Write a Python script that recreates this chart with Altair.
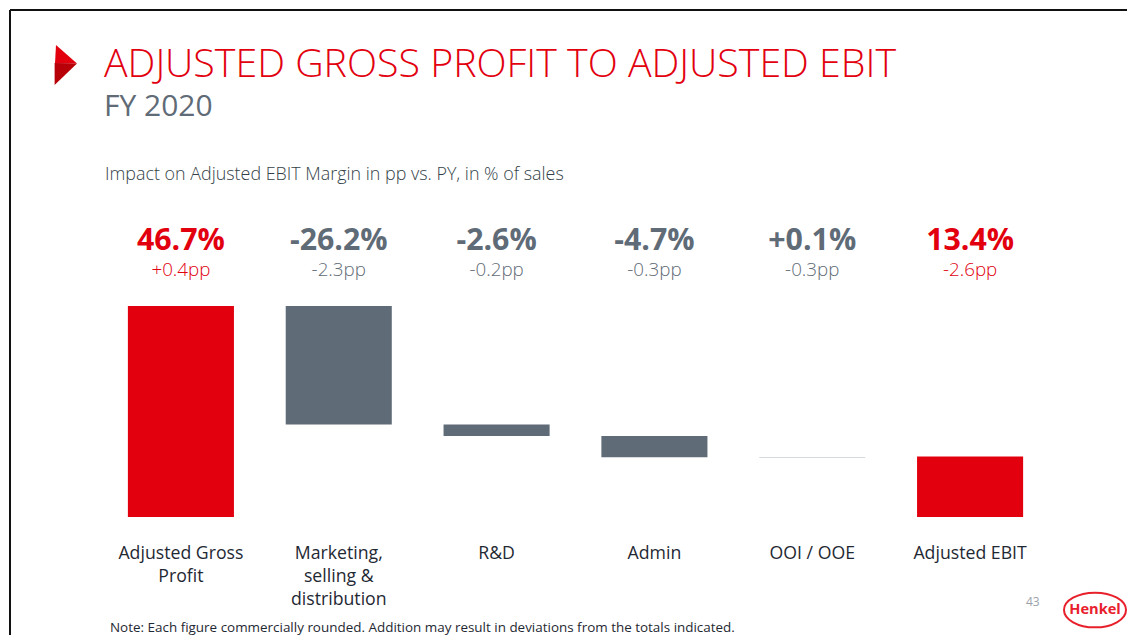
import altair as alt
import pandas as pd

RED = "#e2000f"
GREY = "#5f6b76"
FONT = "Open Sans"

categories = ["Adjusted Gross\nProfit", "Marketing,\nselling &\ndistribution", "R&D", "Admin", "OOI / OOE", "Adjusted EBIT"]
values = [46.7, -26.2, -2.6, -4.7, 0.1, 13.4]
value_labels = ["46.7%", "-26.2%", "-2.6%", "-4.7%", "+0.1%", "13.4%"]
pp_labels = ["+0.4pp", "-2.3pp", "-0.2pp", "-0.3pp", "-0.3pp", "-2.6pp"]
is_total = [True, False, False, False, False, True]
bar_start = [0, 46.7, 20.5, 17.9, 13.2, 0]

df = pd.DataFrame({
    "cat": categories,
    "start": bar_start,
    "end": [s + v for s, v in zip(bar_start, values)],
    "vlabel": value_labels,
    "pp": pp_labels,
    "kind": ["total" if t else "delta" for t in is_total],
})

xs = alt.X("cat:N", sort=categories, axis=None,
           scale=alt.Scale(range=[94, 1041], paddingInner=0.328, paddingOuter=0.164))
ys = alt.Y("start:Q", axis=None, scale=alt.Scale(domain=[0, 46.7], range=[509, 298]))
colors = alt.Color("kind:N", legend=None,
                   scale=alt.Scale(domain=["total", "delta"], range=[RED, GREY]))

base = alt.Chart(df)
bars = base.mark_bar(strokeWidth=0).encode(x=xs, y=ys, y2="end:Q", color=colors)
v_text = base.mark_text(font=FONT, fontSize=30.3, fontWeight="bold", align="center", baseline="middle").encode(
    x=xs, y=alt.value(233), text="vlabel:N", color=colors)
p_text = base.mark_text(font=FONT, fontSize=18.8, fontWeight=300, align="center", baseline="middle").encode(
    x=xs, y=alt.value(262), text="pp:N", color=colors)
c_text = base.mark_text(font=FONT, fontSize=17.7, color="#1f2933", align="center", baseline="top",
                        lineBreak="\n", lineHeight=23).encode(
    x=xs, y=alt.value(537), text="cat:N")


def label(text, x, y, size, color, weight=400, align="left"):
    return alt.Chart(pd.DataFrame({"t": [text]})).mark_text(
        font=FONT, fontSize=size, color=color, fontWeight=weight, align=align, baseline="middle"
    ).encode(x=alt.value(x), y=alt.value(y), text="t:N")


def shape(path, x, y, size, **kw):
    return alt.Chart(pd.DataFrame({"a": [0]})).mark_point(shape=path, size=size, **kw).encode(
        x=alt.value(x), y=alt.value(y))


def rule(x, x2, y, y2):
    return alt.Chart(pd.DataFrame({"a": [0]})).mark_rule(color="#111111", strokeWidth=2).encode(
        x=alt.value(x), x2=alt.value(x2), y=alt.value(y), y2=alt.value(y2))


frame_top = rule(2, 1119, 2, 2)
frame_left = rule(2, 2, 2, 627)

arrow_up = shape("M -0.45 -1 L 0.6 -0.075 L -0.5 -0.075 Z", 57, 57, 1600, filled=True, fill=RED, opacity=1, strokeWidth=0)
arrow_lo = shape("M -0.52 -0.1 L 0.6 -0.075 L -0.52 1 Z", 57, 57, 1600, filled=True, fill="#b80009", opacity=1, strokeWidth=0)

logo = shape("M -1 0 A 1 0.56 0 1 1 1 0 A 1 0.56 0 1 1 -1 0 Z", 1087, 602, 3844,
             filled=False, stroke="#e8202c", strokeWidth=2, opacity=1)

chart = alt.layer(
    frame_top, frame_left,
    arrow_up, arrow_lo,
    label("ADJUSTED GROSS PROFIT TO ADJUSTED EBIT", 96, 57, 39.35, RED, 300),
    label("FY 2020", 96, 99, 30, GREY, 400),
    label("Impact on Adjusted EBIT Margin in pp vs. PY, in % of sales", 97, 167, 17.9, "#333f48", 300),
    bars, v_text, p_text, c_text,
    label("43", 1018, 594, 12, "#9aa1a8", 400),
    logo,
    label("Henkel", 1087, 602, 14.6, "#e8202c", 700, "center"),
    label("Note: Each figure commercially rounded. Addition may result in deviations from the totals indicated.", 102, 619.5, 13.45, "#1f2933", 400),
).properties(width=1119, height=627, padding=0, autosize=alt.AutoSizeParams(type="none")).configure_view(strokeWidth=0)

chart.save("out.html", embed_options={"renderer": "svg", "actions": False})
